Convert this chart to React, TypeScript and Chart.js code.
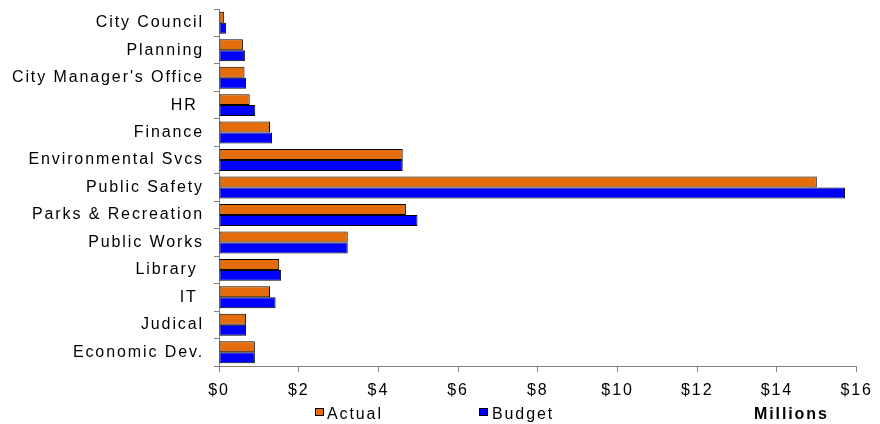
import React, { useEffect, useRef } from "react";
import { Chart, registerables } from "chart.js";

Chart.register(...registerables);

const departments = [
  "City Council",
  "Planning",
  "City Manager's Office",
  "HR ",
  "Finance",
  "Environmental Svcs",
  "Public Safety",
  "Parks & Recreation",
  "Public Works",
  "Library ",
  "IT ",
  "Judical",
  "Economic Dev.",
];

// Spending in millions of dollars
const actual = [0.13, 0.6, 0.64, 0.77, 1.28, 4.61, 15.0, 4.69, 3.23, 1.51, 1.28, 0.68, 0.9];
const budget = [0.18, 0.65, 0.68, 0.91, 1.33, 4.61, 15.71, 4.98, 3.23, 1.56, 1.42, 0.68, 0.9];

const xTicks = [0, 2, 4, 6, 8, 10, 12, 14, 16];

const ORANGE = "#E46C0A";
const BLUE = "#0000FF";
const FONT = "'Liberation Sans', Arial, sans-serif";
const SPACING = "1.9px";

const textSpacing = {
  id: "textSpacing",
  beforeDraw(chart: any) {
    chart.ctx.letterSpacing = SPACING;
  },
  afterDraw(chart: any) {
    const ctx = chart.ctx;
    ctx.save();
    ctx.letterSpacing = SPACING;
    ctx.lineWidth = 1;
    ctx.strokeStyle = "#000";
    // legend swatches
    ctx.fillStyle = ORANGE;
    ctx.fillRect(315, 408, 9, 8);
    ctx.strokeRect(315.5, 408.5, 8, 7);
    ctx.fillStyle = BLUE;
    ctx.fillRect(479, 408, 9, 8);
    ctx.strokeRect(479.5, 408.5, 8, 7);
    ctx.fillStyle = "#000";
    ctx.textBaseline = "alphabetic";
    ctx.textAlign = "left";
    ctx.font = `16px ${FONT}`;
    ctx.fillText("Actual", 327, 419);
    ctx.fillText("Budget", 492, 419);
    ctx.font = `bold 16px ${FONT}`;
    ctx.fillText("Millions", 754, 419);
    ctx.restore();
    ctx.letterSpacing = "0px";
  },
};

export default function App() {
  const ref = useRef<HTMLCanvasElement | null>(null);

  useEffect(() => {
    if (!ref.current) return;
    const chart = new Chart(ref.current, {
      type: "bar",
      data: {
        labels: departments,
        datasets: [
          {
            label: "Actual",
            data: actual,
            backgroundColor: ORANGE,
            borderColor: "#000",
            borderWidth: 1,
            borderSkipped: false,
            categoryPercentage: 0.8,
            barPercentage: 1,
          },
          {
            label: "Budget",
            data: budget,
            backgroundColor: BLUE,
            borderColor: "#000",
            borderWidth: 1,
            borderSkipped: false,
            categoryPercentage: 0.8,
            barPercentage: 1,
          },
        ],
      },
      options: {
        indexAxis: "y",
        responsive: false,
        animation: false,
        layout: { padding: { top: 9, right: 18, left: 0, bottom: 0 } },
        plugins: {
          legend: { display: false },
          tooltip: { enabled: false },
        },
        scales: {
          x: {
            min: 0,
            max: 16,
            afterBuildTicks: (scale: any) => {
              scale.ticks = xTicks.map((v) => ({ value: v }));
            },
            afterFit: (scale: any) => {
              scale.height = 58;
            },
            border: { color: "#808080", width: 1 },
            grid: {
              drawOnChartArea: false,
              tickLength: 6,
              color: "#808080",
            },
            ticks: {
              padding: 10,
              color: "#000",
              font: { family: FONT, size: 16, lineHeight: 1.125 },
              maxRotation: 0,
              callback: (v: any) => "$" + v,
            },
          },
          y: {
            afterFit: (scale: any) => {
              scale.width = 219;
              scale.paddingTop = 0;
              scale.paddingBottom = 0;
            },
            border: { color: "#808080", width: 1 },
            grid: {
              drawOnChartArea: false,
              tickLength: 5,
              color: "#808080",
              offset: true,
            },
            ticks: {
              padding: 10,
              color: "#000",
              font: { family: FONT, size: 16, lineHeight: 1.125 },
              autoSkip: false,
            },
          },
        },
      },
      plugins: [textSpacing],
    });
    return () => chart.destroy();
  }, []);

  return (
    <div style={{ position: "fixed", left: 0, top: 0, width: 880, height: 424, background: "#fff" }}>
      <canvas ref={ref} width={880} height={424} style={{ width: 880, height: 424, display: "block" }} />
    </div>
  );
}
